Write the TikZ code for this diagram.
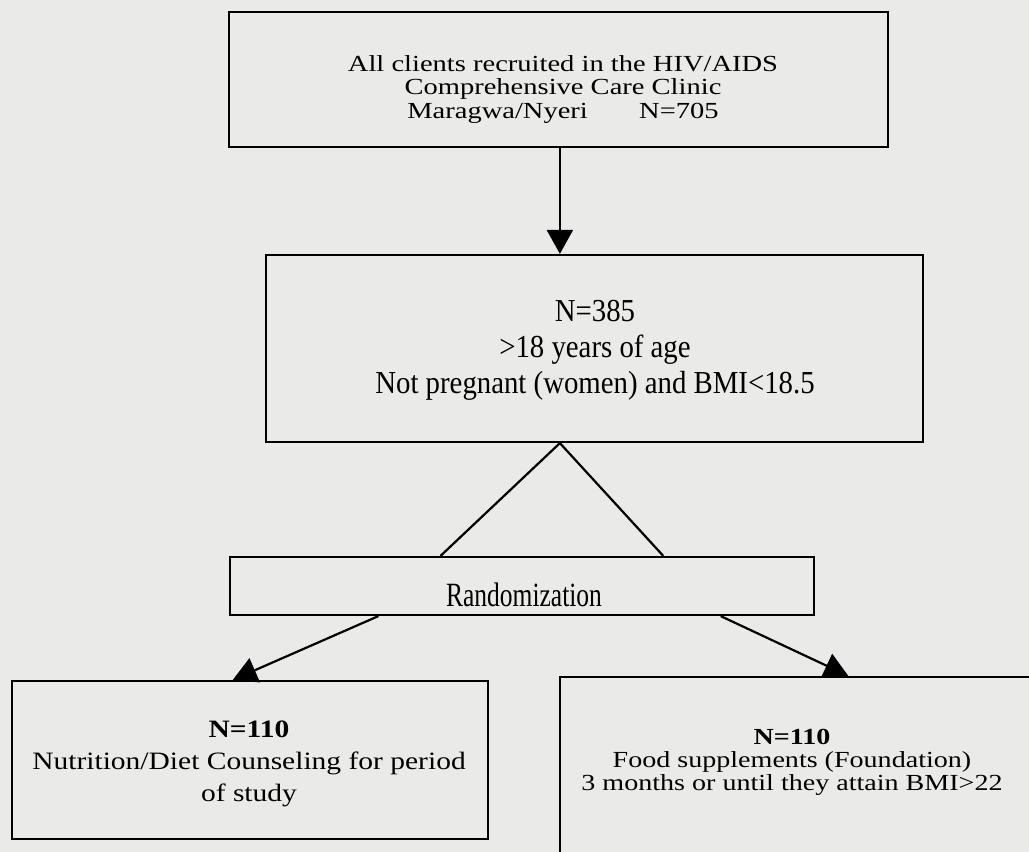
\documentclass[tikz,border=0pt]{standalone}
\usepackage{fontspec}
\setmainfont{Liberation Serif}
\usepackage{xcolor}
\usetikzlibrary{arrows.meta, calc}

\definecolor{paper}{RGB}{234,234,232}

\begin{document}
\begin{tikzpicture}[x=1pt, y=-1pt, line width=2.2pt, >={Triangle[length=24pt,width=26pt]}]
    \tikzset{
        box/.style={draw, rectangle, inner sep=0pt},
        txt/.style={align=center, inner sep=0pt, transform shape},
    }
    % Page
    \path[use as bounding box, fill=paper] (0,0) rectangle (1029,852);
    \clip (0,0) rectangle (1029,852);

    % Boxes
    \node[box, minimum width=659pt, minimum height=135pt] (clinic) at (558.5,79.5) {};
    \node[box, minimum width=657pt, minimum height=187pt] (eligible) at (594.5,348.5) {};
    \node[box, minimum width=584pt, minimum height=58pt] (rand) at (522,586) {};
    \node[box, minimum width=476pt, minimum height=158pt] (counsel) at (250,760) {};
    \node[box, minimum width=485pt, minimum height=203pt] (supp) at (802.5,778.5) {};

    % Texts
    \node[txt, font=\fontsize{23}{23.5}\selectfont, xscale=1.24] (clinic-txt) at (563,89)
        {All clients recruited in the HIV/AIDS\\Comprehensive Care Clinic\\Maragwa/Nyeri\hspace{1.8em}N=705};
    \node[txt, font=\fontsize{32}{36}\selectfont, xscale=0.9] (eligible-txt) at (595,350.5)
        {N=385\\>18 years of age\\Not pregnant (women) and BMI<18.5};
    \node[txt, font=\fontsize{34}{36}\selectfont, xscale=0.75] (rand-txt) at (524,595)
        {Randomization};
    \node[txt, font=\fontsize{25}{32}\selectfont, xscale=1.18] (counsel-txt) at (249,764)
        {\textbf{N=110}\\Nutrition/Diet Counseling for period\\of study};
    \node[txt, font=\fontsize{23}{23}\selectfont, xscale=1.22] (supp-txt) at (792,762.5)
        {\textbf{N=110}\\Food supplements (Foundation)\\3 months or until they attain BMI>22};

    % Connectors
    \coordinate (split) at ($(eligible.south west)!0.4475!(eligible.south east)$);
    \draw[->] (split |- clinic.south) -- (split |- eligible.north);
    \draw (split) -- ($(rand.north west)!0.361!(rand.north east)$);
    \draw (split) -- ($(rand.north west)!0.741!(rand.north east)$);
    \draw[->] ($(rand.south west)!0.255!(rand.south east)$) -- ($(counsel.north west)!0.464!(counsel.north east)$);
    \draw[->] ($(rand.south west)!0.839!(rand.south east)$) -- ($(supp.north west)!0.594!(supp.north east)$);
\end{tikzpicture}
\end{document}
